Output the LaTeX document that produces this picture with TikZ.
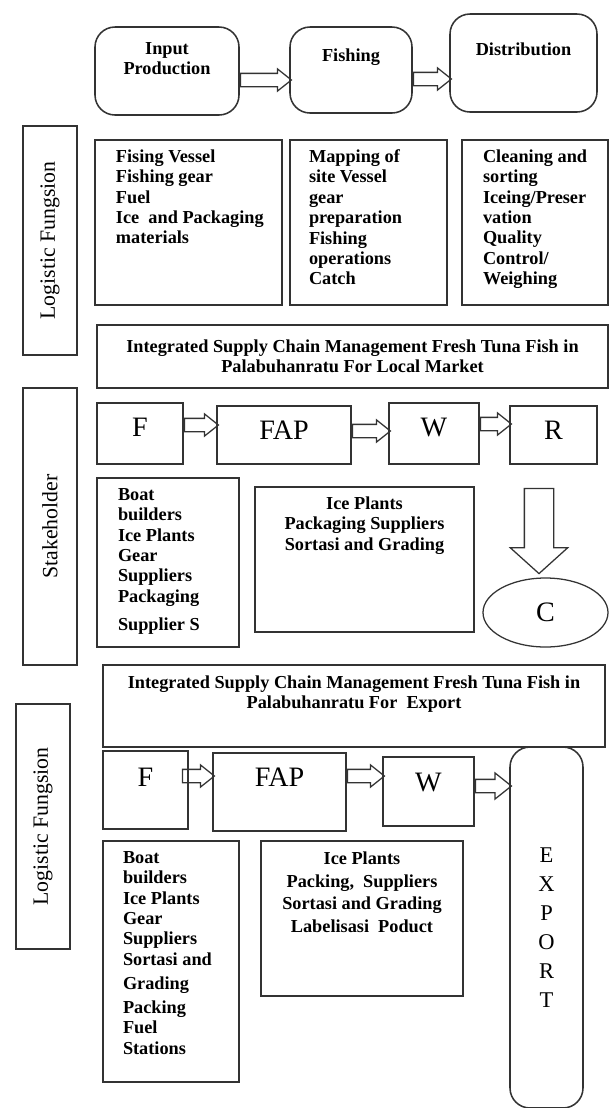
\documentclass[tikz,border=0pt]{standalone}
\usepackage{fontspec}
\setmainfont{Liberation Serif}
\usetikzlibrary{positioning,shapes.geometric,shapes.arrows}

\begin{document}
\begin{tikzpicture}[line width=1.1pt]
\tikzset{box/.style = {draw=black!80, inner sep=0pt},
         rbox/.style = {box, rounded corners=0.5cm},
         txt/.style = {inner sep=0pt, align=left,
                       font=\bfseries\fontsize{13}{14.5}\selectfont},
         ctxt/.style = {txt, align=center},
         big/.style = {box, font=\fontsize{20}{24}\selectfont},
         side/.style = {box, rotate=90, minimum height=1.35cm,
                        font=\fontsize{15.5}{18}\selectfont},
         fat/.style = {single arrow, draw=black!80, line width=0.9pt,
                       inner xsep=0pt, inner ysep=0.15cm,
                       single arrow head extend=0.11cm,
                       single arrow tip angle=77}}
\useasboundingbox (0,0) rectangle (15.225,-27.7);

\node[rbox, minimum width=3.6cm, minimum height=2.2cm] (inp) at (4.175,-1.775) {};
\node[rbox, minimum width=3.05cm, minimum height=2.15cm] (fish) at (8.775,-1.75) {};
\node[rbox, minimum width=3.675cm, minimum height=2.45cm] (dist) at (13.0875,-1.575) {};
\node[ctxt, below=0.39cm of inp.north] (inpt) {Input\\Production};
\node[ctxt, below=0.54cm of fish.north] (fisht) {Fishing};
\node[ctxt, below=0.71cm of dist.north] (distt) {Distribution};
\node[fat, right=0pt of inp.east, yshift=-0.225cm, minimum height=1.275cm] (a1) {};
\node[fat, right=0pt of fish.east, yshift=-0.225cm, minimum height=0.95cm] (a2) {};

\node[side, minimum width=5.725cm] (lfun1) at (1.25,-6.0125) {Logistic Fungsion};
\node[box, minimum width=4.675cm, minimum height=4.125cm] (lf1) at (4.7125,-5.5625) {};
\node[box, minimum width=3.925cm, minimum height=4.125cm] (lf2) at (9.2125,-5.5625) {};
\node[box, minimum width=3.65cm, minimum height=4.125cm] (lf3) at (13.375,-5.5625) {};
\node[txt, below right=0.24cm and 0.525cm of lf1.north west] (lf1t)
  {Fising Vessel\\Fishing gear\\Fuel\\Ice\ \ and Packaging\\materials};
\node[txt, below right=0.24cm and 0.475cm of lf2.north west] (lf2t)
  {Mapping of\\site Vessel\\gear\\preparation\\Fishing\\operations\\Catch};
\node[txt, below right=0.24cm and 0.525cm of lf3.north west] (lf3t)
  {Cleaning and\\sorting\\Iceing/Preser\\vation\\Quality\\Control/\\Weighing};

\node[box, ctxt, minimum width=12.775cm, minimum height=1.575cm] (local) at (8.8125,-8.9125)
  {Integrated Supply Chain Management Fresh Tuna Fish in\\Palabuhanratu For Local Market};

\node[side, minimum width=6.925cm] (stake) at (1.25,-13.1625) {Stakeholder};
\node[big, minimum width=2.15cm, minimum height=1.525cm, text depth=0.33cm] (F) at (3.5,-10.8375) {F};
\node[big, minimum width=3.35cm, minimum height=1.45cm, text depth=0.25cm] (FAP) at (7.1,-10.875) {FAP};
\node[big, minimum width=2.25cm, minimum height=1.525cm, text depth=0.33cm] (W) at (10.85,-10.8375) {W};
\node[big, minimum width=2.175cm, minimum height=1.45cm, text depth=0.25cm] (R) at (13.8375,-10.875) {R};
\node[fat, right=0pt of F.east, yshift=0.2125cm, minimum height=0.85cm] (b1) {};
\node[fat, right=0pt of FAP.east, yshift=0.1cm, minimum height=0.95cm] (b2) {};
\node[fat, right=0pt of W.east, yshift=0.2375cm, minimum height=0.775cm] (b3) {};

\node[box, minimum width=3.55cm, minimum height=4.225cm] (boat) at (4.2,-14.0625) {};
\node[txt, below right=0.26cm and 0.525cm of boat.north west] (boatt)
  {Boat\\builders\\Ice Plants\\Gear\\Suppliers\\Packaging\\[0.2cm]Supplier S};
\node[box, minimum width=5.475cm, minimum height=3.625cm] (ice) at (9.1125,-13.9875) {};
\node[ctxt, below=0.24cm of ice.north] (icet)
  {Ice Plants\\Packaging Suppliers\\Sortasi and Grading};
\node[fat, rotate=-90, minimum height=2.125cm, inner ysep=0.35cm,
      single arrow head extend=0.35cm, single arrow tip angle=96] (down) at (13.475,-13.1125) {};
\node[ellipse, draw=black!80, line width=0.9pt, minimum width=3.125cm, minimum height=1.725cm,
      font=\fontsize{20}{24}\selectfont] (C) at (13.6375,-15.3125) {C};

\node[box, minimum width=12.55cm, minimum height=2.05cm] (export) at (8.85,-17.65) {};
\node[ctxt, below=0.26cm of export.north] (exportt)
  {Integrated Supply Chain Management Fresh Tuna Fish in\\Palabuhanratu For\ \ Export};

\node[side, minimum width=6.125cm] (lfun2) at (1.075,-20.6625) {Logistic Fungsion};
\node[big, minimum width=2.125cm, minimum height=1.95cm, text depth=0.65cm] (F2) at (3.6375,-19.75) {F};
\node[big, minimum width=3.325cm, minimum height=1.95cm, text depth=0.75cm] (FAP2) at (6.9875,-19.8) {FAP};
\node[big, minimum width=2.275cm, minimum height=1.725cm, text depth=0.48cm] (W2) at (10.7125,-19.7875) {W};
\node[rbox, minimum width=1.825cm, minimum height=9.025cm, align=center,
      font=\fontsize{16}{20.6}\selectfont] (EXP) at (13.6625,-23.1875) {E\\X\\P\\O\\R\\T};
\node[fat, right=-0.175cm of F2.east, yshift=0.35cm, minimum height=0.8cm] (c1) {};
\node[fat, right=0pt of FAP2.east, yshift=0.4cm, minimum height=0.925cm] (c2) {};
\node[fat, right=0pt of W2.east, yshift=0.1375cm, minimum height=0.9cm,
      single arrow head extend=0.16cm] (c3) {};

\node[box, minimum width=3.4cm, minimum height=6.025cm] (boat2) at (4.275,-24.0375) {};
\node[txt, below right=0.26cm and 0.5cm of boat2.north west] (boat2t)
  {Boat\\builders\\Ice Plants\\Gear\\Suppliers\\Sortasi and\\[0.1cm]Grading\\[0.08cm]Packing\\Fuel\\Stations};
\node[box, minimum width=5.05cm, minimum height=3.875cm] (ice2) at (9.05,-22.9625) {};
\node[ctxt, below=0.26cm of ice2.north, font=\bfseries\fontsize{13}{16.3}\selectfont] (ice2t)
  {Ice Plants\\Packing,\ \ Suppliers\\Sortasi and Grading\\Labelisasi\ \ Poduct};
\end{tikzpicture}
\end{document}
